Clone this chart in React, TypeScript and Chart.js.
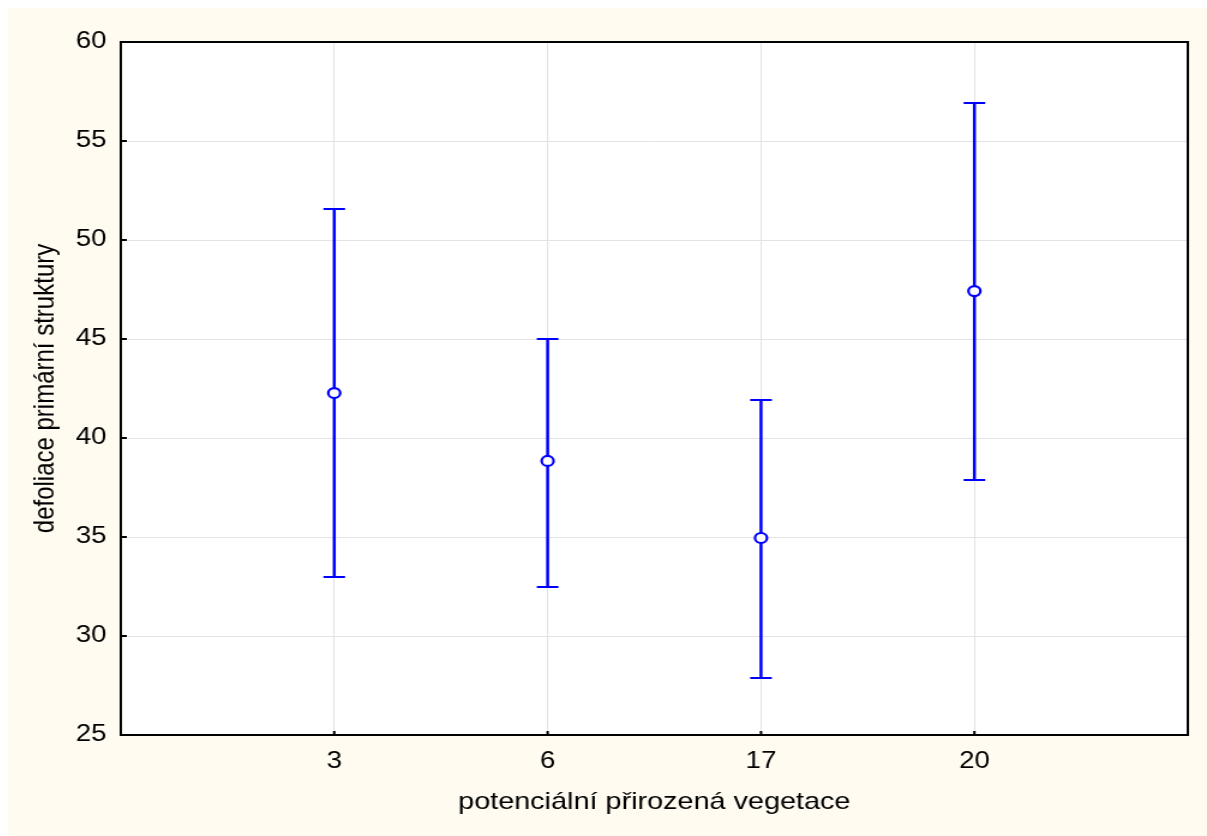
import React, { useEffect, useRef } from "react";
import { Chart, registerables } from "chart.js";

Chart.register(...registerables);

const categories = ["3", "6", "17", "20"];
const means = [42.27, 38.84, 34.95, 47.42];
const upper = [51.57, 45.0, 41.92, 56.92];
const lower = [32.98, 32.47, 27.88, 37.88];
const yTicks = [25, 30, 35, 40, 45, 50, 55, 60];

const BLUE = "#0000FF";
const CREAM = "#FFFBF0";
const FONT = "'Liberation Sans', Arial, sans-serif";

const STRETCH = 1.2;
const CSS_W = 1199;
const CSS_H = 828;
const W = Math.round(CSS_W / STRETCH);
const H = CSS_H;

const framePlugin = {
  id: "frame",
  beforeDraw(chart: any) {
    const { ctx, chartArea } = chart;
    ctx.save();
    ctx.fillStyle = CREAM;
    ctx.fillRect(0, 0, chart.width, chart.height);
    ctx.fillStyle = "#FFFFFF";
    ctx.fillRect(chartArea.left, chartArea.top, chartArea.right - chartArea.left, chartArea.bottom - chartArea.top);
    ctx.restore();
  },
  beforeDatasetsDraw(chart: any) {
    const { ctx, chartArea, scales } = chart;
    const xs = scales.x;
    const ys = scales.y;
    ctx.save();
    ctx.strokeStyle = "#000000";
    ctx.lineWidth = 2;
    ctx.strokeRect(chartArea.left, chartArea.top, chartArea.right - chartArea.left, chartArea.bottom - chartArea.top);
    yTicks.forEach((v) => {
      const py = ys.getPixelForValue(v);
      ctx.beginPath();
      ctx.moveTo(chartArea.left, py);
      ctx.lineTo(chartArea.left + 5, py);
      ctx.stroke();
    });
    categories.forEach((_, i) => {
      const px = xs.getPixelForValue(i + 1);
      ctx.beginPath();
      ctx.moveTo(px, chartArea.bottom);
      ctx.lineTo(px, chartArea.bottom - 4);
      ctx.stroke();
    });
    ctx.strokeStyle = BLUE;
    categories.forEach((_, i) => {
      const px = xs.getPixelForValue(i + 1);
      const pu = ys.getPixelForValue(upper[i]);
      const pl = ys.getPixelForValue(lower[i]);
      ctx.lineWidth = 2.5;
      ctx.beginPath();
      ctx.moveTo(px, pu);
      ctx.lineTo(px, pl);
      ctx.stroke();
      ctx.lineWidth = 2;
      ctx.beginPath();
      ctx.moveTo(px - 9, pu);
      ctx.lineTo(px + 9, pu);
      ctx.moveTo(px - 9, pl);
      ctx.lineTo(px + 9, pl);
      ctx.stroke();
    });
    ctx.restore();
  },
};

export default function App() {
  const ref = useRef<HTMLCanvasElement | null>(null);
  useEffect(() => {
    document.documentElement.style.overflow = "hidden";
    const canvas = ref.current;
    if (!canvas) return;
    const chart = new Chart(canvas, {
      type: "scatter",
      data: {
        datasets: [
          {
            data: means.map((m, i) => ({ x: i + 1, y: m })),
            pointStyle: "circle",
            pointRadius: 5,
            pointBorderWidth: 2.2,
            pointBorderColor: BLUE,
            pointBackgroundColor: "#FFFFFF",
            showLine: false,
          },
        ],
      },
      plugins: [framePlugin],
      options: {
        animation: false,
        responsive: false,
        devicePixelRatio: 1,
        layout: { padding: { top: 34, right: 16, left: 0, bottom: 0 } },
        plugins: { legend: { display: false }, tooltip: { enabled: false } },
        scales: {
          x: {
            type: "linear",
            min: 0,
            max: 5,
            afterFit(scale: any) {
              scale.height = 101;
            },
            afterBuildTicks(scale: any) {
              scale.ticks = [0, 1, 2, 3, 4, 5].map((v) => ({ value: v }));
            },
            ticks: {
              padding: 13,
              color: "#000000",
              font: { family: FONT, size: 23 },
              maxRotation: 0,
              callback: (v: any) => {
                const idx = Math.round(Number(v)) - 1;
                return idx >= 0 && idx < categories.length ? categories[idx] : "";
              },
            },
            grid: {
              drawTicks: false,
              lineWidth: 1,
              color: (c: any) => {
                const v = c.tick ? c.tick.value : 0;
                return v === 0 || v === 5 ? "rgba(0,0,0,0)" : "#E3E3E3";
              },
            },
            border: { display: false },
            title: {
              display: true,
              text: "potenciální přirozená vegetace",
              color: "#000000",
              font: { family: FONT, size: 24 },
              padding: { top: 0, bottom: 19 },
            },
          },
          y: {
            type: "linear",
            min: 25,
            max: 60,
            afterFit(scale: any) {
              scale.width = 94;
            },
            afterBuildTicks(scale: any) {
              scale.ticks = yTicks.map((v) => ({ value: v }));
            },
            ticks: {
              padding: 12,
              color: "#000000",
              font: { family: FONT, size: 23 },
            },
            grid: {
              drawTicks: false,
              lineWidth: 1,
              color: "#E3E3E3",
            },
            border: { display: false },
            title: {
              display: true,
              text: "defoliace primární struktury",
              color: "#000000",
              font: { family: FONT, size: 24 },
              padding: { top: 17, bottom: 0 },
            },
          },
        },
      },
    });
    return () => chart.destroy();
  }, []);
  return (
    <div style={{ position: "absolute", left: 8, top: 8, width: CSS_W, height: CSS_H }}>
      <canvas
        ref={ref}
        width={W}
        height={H}
        style={{ width: CSS_W + "px", height: CSS_H + "px", display: "block" }}
      />
    </div>
  );
}
